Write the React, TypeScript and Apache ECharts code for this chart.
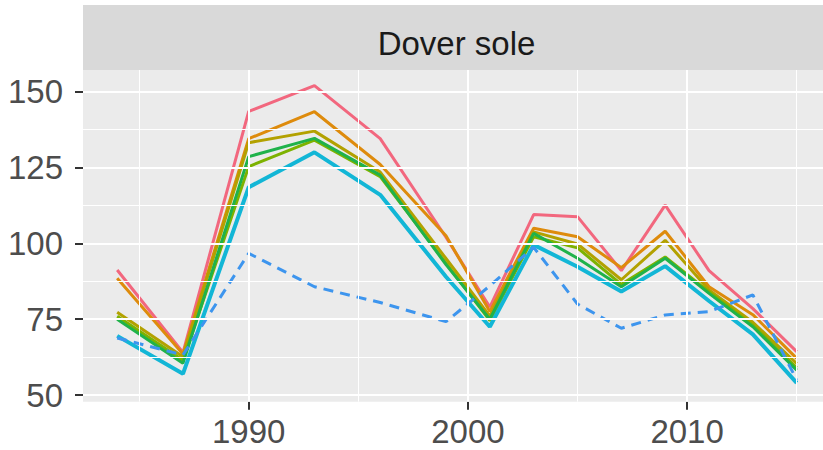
import React, { useEffect, useRef } from "react";
import * as echarts from "echarts";

const years = [1984, 1987, 1990, 1993, 1996, 1999, 2001, 2003, 2005, 2007, 2009, 2011, 2013, 2015];
const pinkVals = [91.2, 64.0, 143.5, 152.0, 134.5, 102.0, 79.0, 109.5, 108.8, 91.0, 112.6, 91.0, 78.5, 64.3];
const orangeVals = [88.5, 63.5, 134.5, 143.4, 126.0, 102.5, 77.5, 105.0, 102.2, 92.0, 104.0, 85.7, 76.5, 62.1];
const oliveVals = [77.3, 62.6, 133.2, 137.0, 123.5, 95.0, 76.0, 103.8, 99.8, 88.0, 101.0, 84.6, 74.0, 60.4];
const limeVals = [76.0, 61.5, 125.3, 134.0, 122.0, 93.5, 74.5, 102.2, 98.5, 86.5, 95.5, 84.0, 73.0, 59.0];
const greenVals = [75.0, 60.5, 128.6, 134.6, 122.5, 93.0, 75.0, 103.3, 95.1, 85.7, 95.1, 83.5, 72.5, 58.2];
const cyanVals = [69.5, 57.0, 118.5, 130.0, 116.0, 89.0, 72.5, 99.5, 92.3, 84.1, 92.5, 81.0, 70.0, 54.0];
const dashedVals = [68.8, 63.2, 96.7, 85.7, 80.5, 74.2, 86.0, 98.7, 80.0, 72.0, 76.4, 77.5, 83.0, 55.0];

const xMajor = [1990, 2000, 2010];
const xMinor = [1985, 1995, 2005, 2015];
const yMajor = [50, 75, 100, 125, 150];
const yMinor = [62.5, 87.5, 112.5, 137.5];
const facetTitle = "Dover sole";

const solidSeries = [
  { name: "s1", color: "#F2677E", data: pinkVals, width: 3 },
  { name: "s2", color: "#DE8B0C", data: orangeVals, width: 3 },
  { name: "s3", color: "#B3A100", data: oliveVals, width: 3 },
  { name: "s4", color: "#7DB200", data: limeVals, width: 3 },
  { name: "s5", color: "#1FB24A", data: greenVals, width: 3 },
  { name: "s6", color: "#12B6D6", data: cyanVals, width: 4 },
];

export default function App() {
  const ref = useRef<HTMLDivElement>(null);
  useEffect(() => {
    if (!ref.current) return;
    const chart = echarts.init(ref.current, null, { renderer: "svg" });
    const X0 = 1982.44, X1 = 2016.2, Y0 = 47.8, Y1 = 157.15;
    const gridLines = [
      ...xMajor.map((v) => ({ xAxis: v, lineStyle: { color: "#FFFFFF", width: 2, type: "solid" } })),
      ...xMinor.map((v) => ({ xAxis: v, lineStyle: { color: "#FFFFFF", width: 1, type: "solid" } })),
      ...yMajor.map((v) => ({ yAxis: v, lineStyle: { color: "#FFFFFF", width: 2, type: "solid" } })),
      ...yMinor.map((v) => ({ yAxis: v, lineStyle: { color: "#FFFFFF", width: 1, type: "solid" } })),
    ];
    const series: any[] = [
      {
        type: "line",
        data: [],
        z: 1,
        silent: true,
        markLine: { symbol: "none", silent: true, label: { show: false }, data: gridLines, animation: false },
      },
      ...solidSeries.map((s) => ({
        type: "line",
        name: s.name,
        data: years.map((y, i) => [y, s.data[i]]),
        showSymbol: false,
        symbol: "none",
        z: 3,
        lineStyle: { color: s.color, width: s.width },
        itemStyle: { color: s.color },
      })),
      {
        type: "line",
        name: "dashed",
        data: years.map((y, i) => [y, dashedVals[i]]),
        showSymbol: false,
        symbol: "none",
        z: 4,
        lineStyle: { color: "#3D95EE", width: 3, type: [10, 7] },
      },
    ];
    chart.setOption({
      animation: false,
      backgroundColor: "#FFFFFF",
      textStyle: { fontFamily: "Liberation Sans, Arial, sans-serif" },
      grid: { left: 83, right: 0, top: 70, bottom: 48.3, show: true, backgroundColor: "#EBEBEB", borderWidth: 0 },
      xAxis: {
        type: "value",
        min: X0,
        max: X1,
        splitLine: { show: false },
        axisLine: { show: false },
        axisTick: { show: true, customValues: xMajor, length: 8, lineStyle: { color: "#333333", width: 2 } },
        axisLabel: { customValues: xMajor, color: "#4D4D4D", fontSize: 33, margin: 13, formatter: (v: number) => String(v) },
      },
      yAxis: {
        type: "value",
        min: Y0,
        max: Y1,
        splitLine: { show: false },
        axisLine: { show: false },
        axisTick: { show: true, customValues: yMajor, length: 8, lineStyle: { color: "#333333", width: 2 } },
        axisLabel: { customValues: yMajor, color: "#4D4D4D", fontSize: 33, margin: 20, formatter: (v: number) => String(v) },
      },
      graphic: [
        { type: "rect", shape: { x: 83, y: 5, width: 760, height: 65 }, style: { fill: "#D9D9D9" }, z: 0 },
        {
          type: "text",
          x: 456.5,
          y: 43,
          style: { text: facetTitle, fill: "#1A1A1A", font: "33px 'Liberation Sans', Arial, sans-serif", align: "center", verticalAlign: "middle" },
          z: 1,
        },
      ],
      series,
    });
    return () => chart.dispose();
  }, []);
  return <div ref={ref} style={{ position: "fixed", left: 0, top: 0, width: 823, height: 450 }} />;
}
